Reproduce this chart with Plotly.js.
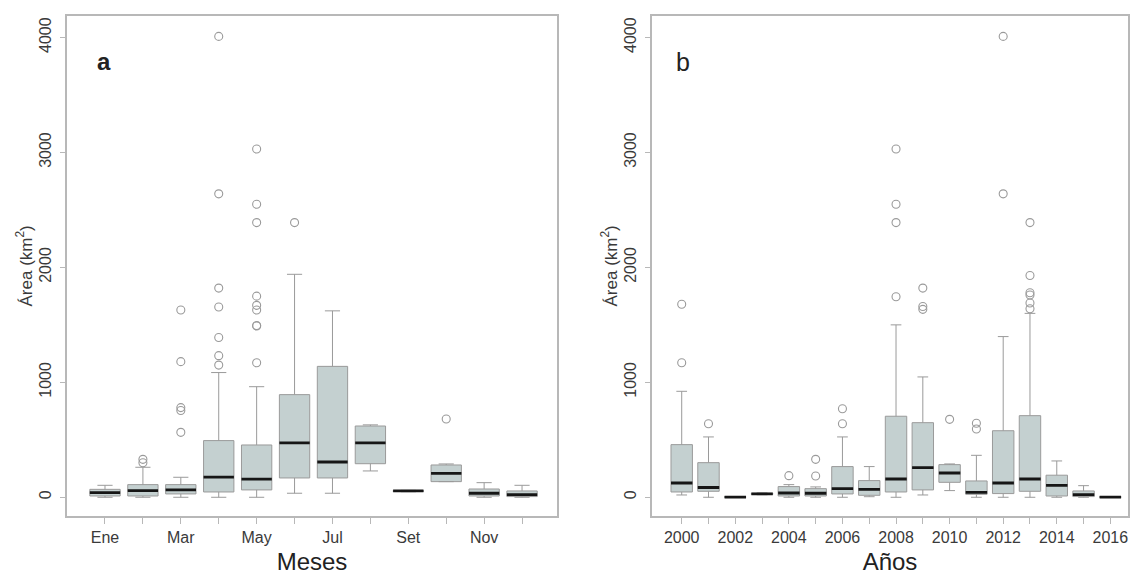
<!DOCTYPE html>
<html>
<head>
<meta charset="utf-8">
<script src="https://cdn.plot.ly/plotly-3.0.1.min.js"></script>
<style>html,body{margin:0;padding:0;background:#fff;}#chart{width:1133px;height:584px;}</style>
</head>
<body>
<div id="chart"></div>
<script>
// ---- Panel a: months ----
var months = ["Ene","Feb","Mar","Abr","May","Jun","Jul","Ago","Set","Oct","Nov","Dic"];
var monthLabelPos = [0, 2, 4, 6, 8, 10];
var monthLabels = ["Ene","Mar","May","Jul","Set","Nov"];
var mQ1  = [11, 11, 29, 46, 64, 168, 168, 292, 50, 136, 11, 6];
var mMed = [40, 58, 64, 176, 157, 473, 307, 473, 55, 208, 35, 23];
var mQ3  = [69, 110, 110, 493, 455, 893, 1139, 620, 58, 281, 72, 55];
var mLow = [0, 0, 0, 0, 0, 35, 35, 229, 48, 145, 0, 0];
var mUp  = [104, 261, 174, 1085, 962, 1940, 1622, 630, 60, 290, 127, 104];
var mOut = [[], [300, 330], [1630, 1180, 780, 755, 565],
            [4010, 2640, 1820, 1655, 1390, 1232, 1150],
            [3030, 2550, 2390, 1750, 1670, 1630, 1495, 1490, 1170],
            [2390], [], [], [], [681], [], []];

// ---- Panel b: years ----
var years = ["2000","2001","2002","2003","2004","2005","2006","2007","2008","2009","2010","2011","2012","2013","2014","2015","2016"];
var yearLabelPos = [0, 2, 4, 6, 8, 10, 12, 14, 16];
var yearLabels = ["2000","2002","2004","2006","2008","2010","2012","2014","2016"];
var yQ1  = [46, 52, 0, 25, 11, 11, 29, 17, 46, 64, 130, 26, 32, 52, 11, 6, 0];
var yMed = [124, 85, 2, 30, 37, 35, 75, 69, 159, 258, 211, 43, 124, 159, 104, 23, 2];
var yQ3  = [458, 301, 4, 35, 93, 75, 267, 145, 705, 649, 284, 142, 579, 710, 192, 55, 4];
var yLow = [20, 0, 0, 22, 0, 0, 0, 5, 0, 20, 58, 0, 0, 0, 0, 0, 0];
var yUp  = [922, 525, 6, 38, 110, 90, 525, 267, 1500, 1047, 290, 365, 1398, 1600, 316, 101, 6];
var yOut = [[1680, 1170], [640], [], [], [188], [185, 330], [770, 640], [],
            [3030, 2550, 2390, 1745], [1820, 1660, 1635], [678], [644, 594],
            [4010, 2640], [2390, 1930, 1780, 1760, 1690, 1640], [], [], []];

var yTickVals = [0, 1000, 2000, 3000, 4000];

var boxFill = "#c4d0d0", boxLine = "#9a9a9a", frameCol = "#b8b8b8", txtCol = "#3a3a3a";
var W = 1133, H = 584;

function idx(n){ var a=[]; for(var i=0;i<n;i++) a.push(i); return a; }
function outliersXY(out){
  var xs=[], ys=[];
  out.forEach(function(list,i){ list.forEach(function(v){ xs.push(i); ys.push(v); }); });
  return {x:xs, y:ys};
}
function boxTraces(n, q1, med, q3, lo, up, out, xa, ya){
  var xs = idx(n);
  var o = outliersXY(out);
  return [
    {type:"box", x:xs, q1:q1, median:med, q3:q3, lowerfence:lo, upperfence:up,
     width:0.8, whiskerwidth:0.5, fillcolor:boxFill, line:{color:boxLine, width:1},
     boxpoints:false, xaxis:xa, yaxis:ya, hoverinfo:"skip", showlegend:false},
    {type:"box", x:xs, q1:med, median:med, q3:med, lowerfence:med, upperfence:med,
     width:0.8, whiskerwidth:0, fillcolor:"rgba(0,0,0,0)", line:{color:"#161616", width:2.8},
     boxpoints:false, xaxis:xa, yaxis:ya, hoverinfo:"skip", showlegend:false},
    {type:"scatter", mode:"markers", x:o.x, y:o.y, xaxis:xa, yaxis:ya,
     marker:{symbol:"circle-open", size:8, color:"#9a9a9a", line:{width:1.1, color:"#9a9a9a"}},
     hoverinfo:"skip", showlegend:false}
  ];
}

var data = [].concat(
  boxTraces(months.length, mQ1, mMed, mQ3, mLow, mUp, mOut, "x", "y"),
  boxTraces(years.length, yQ1, yMed, yQ3, yLow, yUp, yOut, "x2", "y2")
);

var font = {family:"Liberation Sans, Arial, sans-serif", size:16, color:txtCol};
var yDom = [(H-516)/H, (H-15.7)/H];
function xAxis(dom, rng, n, tvals, ttext, title){
  return {domain:dom, range:rng, tickmode:"array", tickvals:tvals, ticktext:ttext,
    ticks:"outside", ticklen:6, tickcolor:frameCol, tickwidth:1,
    minor:{tickmode:"array", tickvals:idx(n), ticks:"outside", ticklen:6, tickcolor:frameCol, tickwidth:1, showgrid:false},
    showline:true, mirror:true, linecolor:frameCol, linewidth:1.5,
    showgrid:false, zeroline:false, tickfont:{size:16, color:txtCol},
    title:{text:title, font:{size:24, color:"#222"}, standoff:8}, automargin:false, fixedrange:true};
}
function yAxis(anchor){
  return {domain:yDom, range:[-163, 4190], tickmode:"array", tickvals:yTickVals,
    ticks:"outside", ticklen:5, tickcolor:frameCol, tickwidth:1, tickangle:-90,
    ticklabelstandoff:3,
    showline:true, mirror:true, linecolor:frameCol, linewidth:1.5,
    showgrid:false, zeroline:false, tickfont:{size:16, color:txtCol},
    title:{text:"Área (km<sup>2</sup>)", font:{size:17, color:txtCol}, standoff:0},
    anchor:anchor, automargin:false, fixedrange:true};
}

var layout = {
  width:W, height:H, margin:{l:0, r:0, t:0, b:0},
  paper_bgcolor:"#fff", plot_bgcolor:"#fff", font:font,
  boxmode:"overlay", showlegend:false,
  xaxis: Object.assign(xAxis([66.7/W, 557.3/W], [-1.01, 11.93], months.length, monthLabelPos, monthLabels, "Meses"), {anchor:"y"}),
  yaxis: yAxis("x"),
  xaxis2: Object.assign(xAxis([651.7/W, 1128.3/W], [-1.12, 16.67], years.length, yearLabelPos, yearLabels, "Años"), {anchor:"y2"}),
  yaxis2: yAxis("x2"),
  annotations:[
    {text:"<b>a</b>", xref:"paper", yref:"paper", x:104/W, y:(H-62)/H, showarrow:false,
     font:{size:24, color:"#222"}, xanchor:"center", yanchor:"middle"},
    {text:"b", xref:"paper", yref:"paper", x:683/W, y:(H-62)/H, showarrow:false,
     font:{size:25, color:"#222"}, xanchor:"center", yanchor:"middle"}
  ]
};

Plotly.newPlot("chart", data, layout, {staticPlot:true, displayModeBar:false});
</script>
</body>
</html>
